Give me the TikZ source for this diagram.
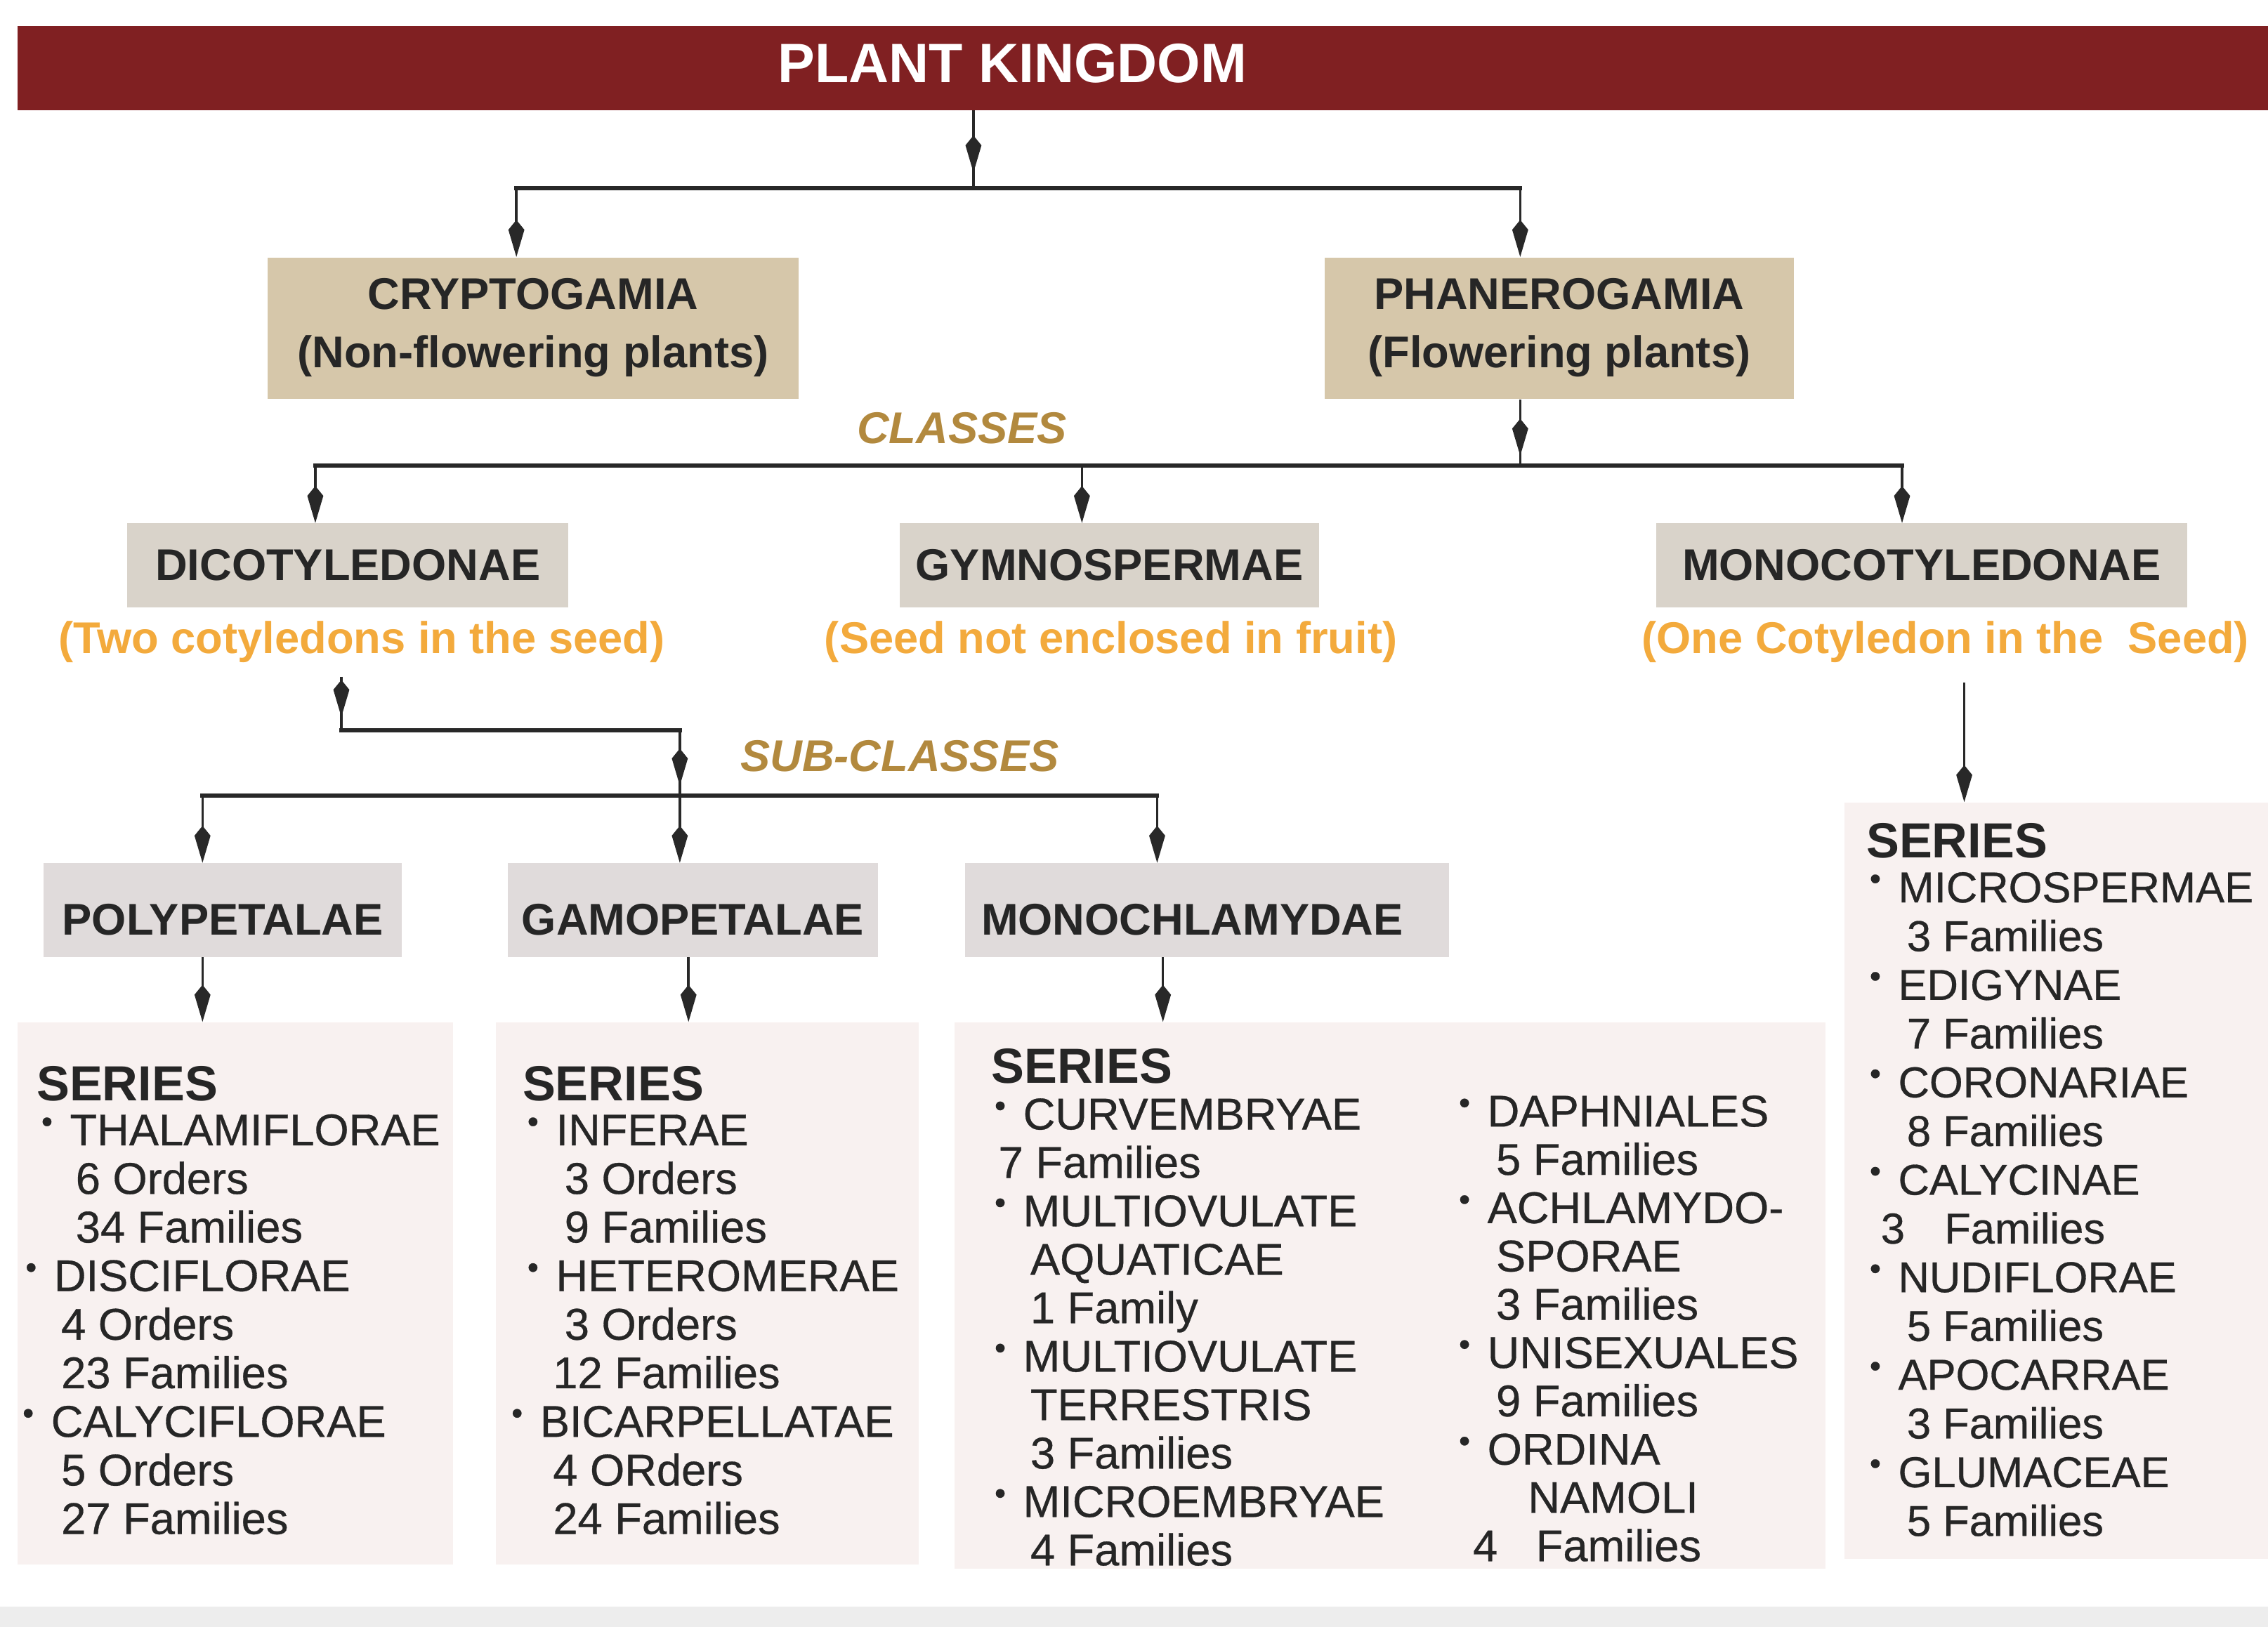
\documentclass[tikz,border=0pt]{standalone}
\usepackage{fontspec}
\setmainfont{Liberation Sans}
\newfontfamily\serfont[FakeBold=0.5]{Liberation Sans}
\usetikzlibrary{arrows.meta,decorations.markings,fit}
\definecolor{barred}{RGB}{128,32,34}
\definecolor{tanfill}{RGB}{214,199,170}
\definecolor{clsfill}{RGB}{217,211,202}
\definecolor{subfill}{RGB}{224,219,219}
\definecolor{serfill}{RGB}{248,241,240}
\definecolor{gold}{RGB}{178,137,62}
\definecolor{orng}{RGB}{243,170,60}
\definecolor{ink}{RGB}{38,38,38}
\definecolor{lin}{RGB}{40,40,40}
\newcommand\bl{\llap{\raisebox{5.2pt}{\fontsize{13}{13}\selectfont\textbullet}\hspace{7pt}}}
\tikzset{
  tipk/.tip={Kite[length=15pt,width=6.5pt,inset=4pt]},
  bus/.style={draw=lin, line width=1.7pt, line cap=rect},
  drop/.style={draw=lin, line width=1pt, -tipk},
  middrop/.style={draw=lin, line width=1pt, postaction={decorate},
    decoration={markings, mark=at position #1 with {\arrow{tipk}}}},
  middrop/.default=0.8,
  boxtxt/.style={inner sep=0, text=ink, font=\fontsize{18}{20}\selectfont\bfseries},
  tanbox/.style={inner sep=0, fill=tanfill},
  clsbox/.style={inner sep=0, fill=clsfill},
  subbox/.style={inner sep=0, fill=subfill},
  serbox/.style={inner sep=0, fill=serfill},
  hdr/.style={anchor=base west, inner sep=0, text=ink, font=\fontsize{20}{22}\selectfont\bfseries},
  ln/.style={anchor=base west, inner sep=0, text=ink, font=\serfont\fontsize{18}{20}\selectfont},
  lnm/.style={ln, font=\serfont\fontsize{17.5}{20}\selectfont},
  note/.style={inner sep=0, text=orng, font=\fontsize{18}{20}\selectfont\bfseries},
  lvl/.style={inner sep=0, text=gold, font=\fontsize{18}{20}\selectfont\bfseries\itshape},
}
\begin{document}
\begin{tikzpicture}[x=0.020593cm, y=-0.020593cm]
\useasboundingbox (0,0) rectangle (1568,1125);
\fill[white] (0,0) rectangle (1568,1125);
\fill[black!7] (0,1111) rectangle (1568,1125);

% title
\node[fit={(12,18) (1568,76)}, inner sep=0, fill=barred] (bar) {};
\node[inner sep=0, text=white, font=\fontsize{22.5}{24}\selectfont\bfseries] (title) at (700,44) {PLANT KINGDOM};

% first level
\node[tanbox, fit={(185,178) (552,276)}] (crypt) {};
\node[tanbox, fit={(916,178) (1240,276)}] (phan) {};
\node[boxtxt, anchor=base, yshift=7.6pt] (crypt1) at (crypt.center) {CRYPTOGAMIA};
\node[boxtxt, anchor=base, yshift=-15.8pt] (crypt2) at (crypt.center) {(Non-flowering plants)};
\node[boxtxt, anchor=base, yshift=7.6pt] (phan1) at (phan.center) {PHANEROGAMIA};
\node[boxtxt, anchor=base, yshift=-15.8pt] (phan2) at (phan.center) {(Flowering plants)};

\coordinate (j0) at (673,130);
\coordinate (ja) at (357,130);
\coordinate (jb) at (1051,130);
\draw[middrop=0.8] (bar.south -| j0) -- (j0);
\draw[bus] (ja) -- (jb);
\draw[drop] (ja) -- (ja |- crypt.north);
\draw[drop] (jb) -- (jb |- phan.north);

% classes
\node[lvl] (classes) at (665,296) {CLASSES};
\node[clsbox, fit={(88,362) (393,420)}] (dico) {};
\node[clsbox, fit={(622,362) (912,420)}] (gymno) {};
\node[clsbox, fit={(1145,362) (1512,420)}] (mono) {};
\node[boxtxt] (dicot) at (dico.center) {DICOTYLEDONAE};
\node[boxtxt] (gymnot) at (gymno.center) {GYMNOSPERMAE};
\node[boxtxt] (monot) at (mono.center) {MONOCOTYLEDONAE};
\node[note] (dsub) at (250,444) {(Two cotyledons in the seed)};
\node[note] (gsub) at (768,444) {(Seed not enclosed in fruit)};
\node[note] (msub) at (1345,444) {(One Cotyledon in the\ \ Seed)};

\coordinate (k0) at (1051,322);
\coordinate (ka) at (218,322);
\coordinate (kb) at (748,322);
\coordinate (kc) at (1315,322);
\draw[middrop=0.85] (phan.south -| k0) -- (k0);
\draw[bus] (ka) -- (kc);
\draw[drop] (ka) -- (ka |- dico.north);
\draw[drop] (kb) -- (kb |- gymno.north);
\draw[drop] (kc) -- (kc |- mono.north);

% sub-classes
\node[lvl] (subclasses) at (622,523) {SUB-CLASSES};
\node[subbox, fit={(30,597) (278,662)}] (poly) {};
\node[subbox, fit={(351,597) (607,662)}] (gamo) {};
\node[subbox, fit={(667,597) (1002,662)}] (monoch) {};
\node[boxtxt, yshift=-3.8pt] (polyt) at (poly.center) {POLYPETALAE};
\node[boxtxt, yshift=-3.8pt] (gamot) at (gamo.center) {GAMOPETALAE};
\node[boxtxt, yshift=-3.8pt, xshift=-6pt] (monocht) at (monoch.center) {MONOCHLAMYDAE};

\coordinate (m00) at (236,468);
\coordinate (m0) at (236,505);
\coordinate (m1) at (470,505);
\coordinate (m2) at (470,550);
\coordinate (na) at (140,550);
\coordinate (nc) at (800,550);
\draw[middrop=0.75] (m00) -- (m0);
\draw[bus] (m0) -- (m1);
\draw[middrop=0.85] (m1) -- (m2);
\draw[bus] (na) -- (nc);
\draw[drop] (na) -- (na |- poly.north);
\draw[drop] (m2) -- (m2 |- gamo.north);
\draw[drop] (nc) -- (nc |- monoch.north);

% series boxes
\node[serbox, fit={(12,707) (313,1082)}] (pser) {};
\node[serbox, fit={(343,707) (635,1082)}] (gser) {};
\node[serbox, fit={(660,707) (1262,1085)}] (mser) {};
\node[serbox, fit={(1275,555) (1568,1078)}] (oser) {};

\coordinate (q1) at (140,662);
\coordinate (q2) at (476,662);
\coordinate (q3) at (804,662);
\coordinate (r0) at (1358,472);
\draw[drop] (q1) -- (q1 |- pser.north);
\draw[drop] (q2) -- (q2 |- gser.north);
\draw[drop] (q3) -- (q3 |- mser.north);
\draw[drop] (r0) -- (r0 |- oser.north);

% Polypetalae series
\node[hdr] (phead) at (25,761) {SERIES};
\foreach \x/\tx [count=\i] in {48/{\bl THALAMIFLORAE}, 52/{6 Orders}, 52/{34 Families},
  37/{\bl DISCIFLORAE}, 42/{4 Orders}, 42/{23 Families},
  35/{\bl CALYCIFLORAE}, 42/{5 Orders}, 42/{27 Families}}
  \node[ln] (p\i) at (\x,{792+33.6*(\i-1)}) {\tx};

% Gamopetalae series
\node[hdr] (ghead) at (361,761) {SERIES};
\foreach \x/\tx [count=\i] in {384/{\bl INFERAE}, 390/{3 Orders}, 390/{9 Families},
  384/{\bl HETEROMERAE}, 390/{3 Orders}, 382/{12 Families},
  373/{\bl BICARPELLATAE}, 382/{4 ORders}, 382/{24 Families}}
  \node[ln] (g\i) at (\x,{792+33.6*(\i-1)}) {\tx};

% Monochlamydae series
\node[hdr] (mhead) at (685,749) {SERIES};
\foreach \x/\tx [count=\i] in {707/{\bl CURVEMBRYAE}, 690/{7 Families},
  707/{\bl MULTIOVULATE}, 712/{AQUATICAE}, 712/{1 Family},
  707/{\bl MULTIOVULATE}, 712/{TERRESTRIS}, 712/{3 Families},
  707/{\bl MICROEMBRYAE}, 712/{4 Families}}
  \node[ln] (ml\i) at (\x,{781+33.5*(\i-1)}) {\tx};
\foreach \x/\tx [count=\i] in {1028/{\bl DAPHNIALES}, 1034/{5 Families},
  1028/{\bl ACHLAMYDO-}, 1034/{SPORAE}, 1034/{3 Families},
  1028/{\bl UNISEXUALES}, 1034/{9 Families},
  1028/{\bl ORDINA}, 1056/{NAMOLI}, 1018/{4\hspace*{15.5pt}Families}}
  \node[ln] (mr\i) at (\x,{779+33.4*(\i-1)}) {\tx};

% Monocotyledonae series
\node[hdr] (ohead) at (1290,593) {SERIES};
\foreach \x/\tx [count=\i] in {1312/{\bl MICROSPERMAE}, 1318/{3 Families},
  1312/{\bl EDIGYNAE}, 1318/{7 Families},
  1312/{\bl CORONARIAE}, 1318/{8 Families},
  1312/{\bl CALYCINAE}, 1300/{3\hspace*{16pt}Families},
  1312/{\bl NUDIFLORAE}, 1318/{5 Families},
  1312/{\bl APOCARRAE}, 1318/{3 Families},
  1312/{\bl GLUMACEAE}, 1318/{5 Families}}
  \node[lnm] (o\i) at (\x,{624+33.7*(\i-1)}) {\tx};
\end{tikzpicture}
\end{document}
